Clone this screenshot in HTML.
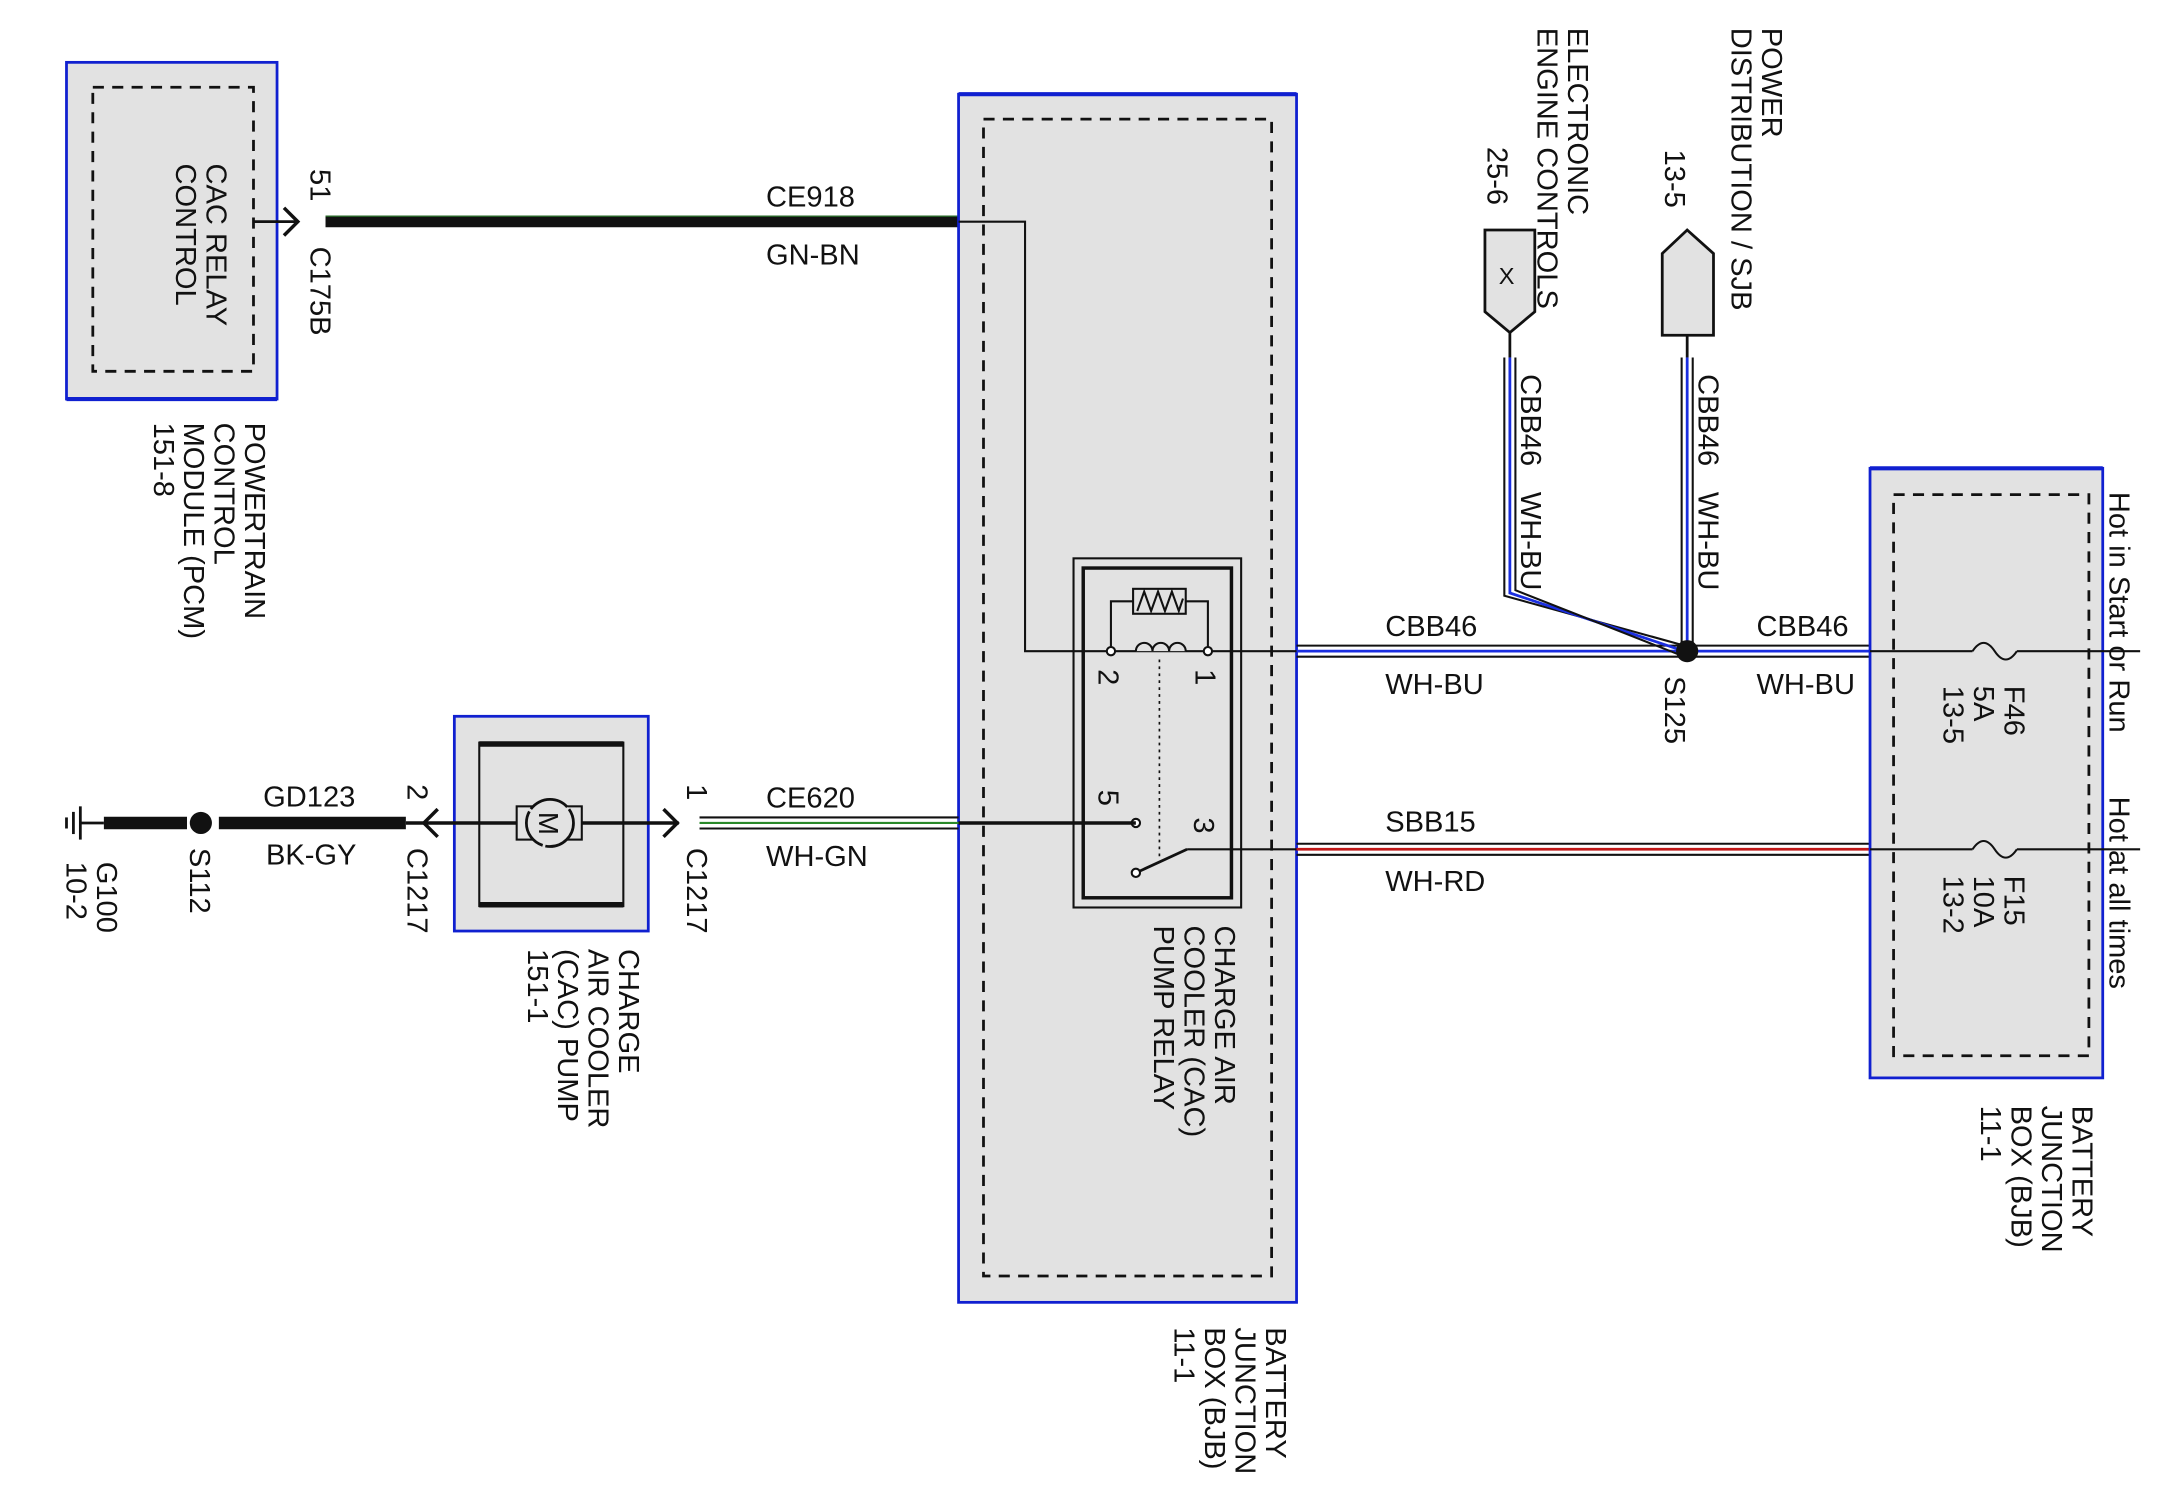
<!DOCTYPE html>
<html><head><meta charset="utf-8"><style>
html,body{margin:0;padding:0;background:#fff;}
svg{display:block;}
text{font-family:"Liberation Sans",sans-serif;font-size:21px;fill:#111;}
</style></head><body>
<svg width="2172" height="1488" viewBox="0 0 1568 1074" preserveAspectRatio="none" xmlns="http://www.w3.org/2000/svg">
<rect width="1568" height="1074" fill="#fff"/>
<!-- PCM -->
<rect x="48" y="45" width="152" height="243" fill="#e2e2e2" stroke="#1020d0" stroke-width="2"/>
<line x1="48" y1="288" x2="200" y2="288" stroke="#1020d0" stroke-width="3"/>
<rect x="67" y="63" width="116" height="205" fill="none" stroke="#111" stroke-width="2" stroke-dasharray="8,6"/>
<text transform="translate(149,118) rotate(90)"><tspan x="0" y="0">CAC RELAY</tspan><tspan x="0" dy="22">CONTROL</tspan></text>
<text transform="translate(177,305) rotate(90)"><tspan x="0" y="0">POWERTRAIN</tspan><tspan x="0" dy="22">CONTROL</tspan><tspan x="0" dy="22">MODULE (PCM)</tspan><tspan x="0" dy="22">151-8</tspan></text>
<line x1="183" y1="160" x2="214" y2="160" stroke="#111" stroke-width="2"/>
<path d="M205,150 L215,160 L205,170" fill="none" stroke="#111" stroke-width="2.5"/>
<line x1="235" y1="160" x2="692" y2="160" stroke="#111" stroke-width="8"/>
<line x1="235" y1="156" x2="692" y2="156" stroke="#2a6a2a" stroke-width="1"/>
<text transform="translate(224,122) rotate(90)">51</text>
<text transform="translate(224,178) rotate(90)">C175B</text>
<text x="553" y="149">CE918</text>
<text x="553" y="191">GN-BN</text>
<!-- Big BJB -->
<rect x="692" y="68" width="244" height="872" fill="#e2e2e2" stroke="#1020d0" stroke-width="2"/>
<line x1="692" y1="68" x2="936" y2="68" stroke="#1020d0" stroke-width="3"/>
<rect x="710" y="86" width="208" height="835" fill="none" stroke="#111" stroke-width="2" stroke-dasharray="8,6"/>
<text transform="translate(914,958) rotate(90)"><tspan x="0" y="0">BATTERY</tspan><tspan x="0" dy="22">JUNCTION</tspan><tspan x="0" dy="22">BOX (BJB)</tspan><tspan x="0" dy="22">11-1</tspan></text>
<polyline points="692,160 740,160 740,470 802,470" fill="none" stroke="#111" stroke-width="1.5"/>
<!-- relay -->
<rect x="775" y="403" width="121" height="252" fill="none" stroke="#111" stroke-width="1.5"/>
<rect x="782" y="410" width="107" height="238" fill="none" stroke="#111" stroke-width="2.5"/>
<polyline points="802,470 802,434 818,434" fill="none" stroke="#111" stroke-width="1.5"/>
<polyline points="856,434 872,434 872,470" fill="none" stroke="#111" stroke-width="1.5"/>
<rect x="818" y="425" width="38" height="18" fill="none" stroke="#111" stroke-width="1.5"/>
<polyline points="821,441 826,427 831,441 836,427 841,441 846,427 851,441 854,432" fill="none" stroke="#111" stroke-width="1.5"/>
<line x1="802" y1="470" x2="936" y2="470" stroke="#111" stroke-width="1.5"/>
<path d="M820,470 a6,6 0 0 1 12,0 a6,6 0 0 1 12,0 a6,6 0 0 1 12,0" fill="#e2e2e2" stroke="#111" stroke-width="1.5"/>
<circle cx="802" cy="470" r="3" fill="#fff" stroke="#111" stroke-width="1.5"/>
<circle cx="872" cy="470" r="3" fill="#fff" stroke="#111" stroke-width="1.5"/>
<line x1="837" y1="476" x2="837" y2="620" stroke="#111" stroke-width="1.2" stroke-dasharray="2,3"/>
<circle cx="820" cy="594" r="3" fill="#fff" stroke="#111" stroke-width="1.5"/>
<line x1="820" y1="630" x2="857" y2="613" stroke="#111" stroke-width="2"/>
<circle cx="820" cy="630" r="3" fill="#fff" stroke="#111" stroke-width="1.5"/>
<line x1="857" y1="613" x2="936" y2="613" stroke="#111" stroke-width="1.5"/>
<text transform="translate(793,483) rotate(90)">2</text>
<text transform="translate(863,483) rotate(90)">1</text>
<text transform="translate(793,570) rotate(90)">5</text>
<text transform="translate(862,590) rotate(90)">3</text>
<text transform="translate(877,668) rotate(90)"><tspan x="0" y="0">CHARGE AIR</tspan><tspan x="0" dy="22">COOLER (CAC)</tspan><tspan x="0" dy="22">PUMP RELAY</tspan></text>
<!-- CBB46 wires -->
<g stroke-width="1.5" fill="none">
<line x1="936" y1="466" x2="1218" y2="466" stroke="#111"/>
<line x1="936" y1="470" x2="1218" y2="470" stroke="#1a2ee0" stroke-width="2"/>
<line x1="936" y1="474" x2="1218" y2="474" stroke="#111"/>
<line x1="1218" y1="466" x2="1350" y2="466" stroke="#111"/>
<line x1="1218" y1="470" x2="1350" y2="470" stroke="#1a2ee0" stroke-width="2"/>
<line x1="1218" y1="474" x2="1350" y2="474" stroke="#111"/>
<polyline points="1086,258 1086,430 1216,466" stroke="#111"/>
<polyline points="1090,258 1090,428 1216,470" stroke="#1a2ee0" stroke-width="2"/>
<polyline points="1094,258 1094,426 1216,474" stroke="#111"/>
<line x1="1214" y1="258" x2="1214" y2="470" stroke="#111"/>
<line x1="1218" y1="258" x2="1218" y2="470" stroke="#1a2ee0" stroke-width="2"/>
<line x1="1222" y1="258" x2="1222" y2="470" stroke="#111"/>
<line x1="1090" y1="240" x2="1090" y2="258" stroke="#111" stroke-width="2"/>
<line x1="1218" y1="242" x2="1218" y2="258" stroke="#111" stroke-width="2"/>
<!-- SBB15 -->
<line x1="936" y1="609" x2="1350" y2="609" stroke="#111"/>
<line x1="936" y1="613" x2="1350" y2="613" stroke="#c01818" stroke-width="2"/>
<line x1="936" y1="617" x2="1350" y2="617" stroke="#111"/>
</g>
<circle cx="1218" cy="470" r="8" fill="#111"/>
<text x="1000" y="459">CBB46</text>
<text x="1000" y="501">WH-BU</text>
<text x="1268" y="459">CBB46</text>
<text x="1268" y="501">WH-BU</text>
<text x="1000" y="600">SBB15</text>
<text x="1000" y="643">WH-RD</text>
<text transform="translate(1202,488) rotate(90)">S125</text>
<text transform="translate(1098,270) rotate(90)">CBB46</text>
<text transform="translate(1098,355) rotate(90)">WH-BU</text>
<text transform="translate(1226,270) rotate(90)">CBB46</text>
<text transform="translate(1226,355) rotate(90)">WH-BU</text>
<!-- ECM connector -->
<path d="M1072,166 L1108,166 L1108,225 L1090,240 L1072,225 Z" fill="#e2e2e2" stroke="#111" stroke-width="2"/>
<text x="1082" y="205" style="font-size:17px">X</text>
<text transform="translate(1074,106) rotate(90)">25-6</text>
<text transform="translate(1132,20) rotate(90)"><tspan x="0" y="0">ELECTRONIC</tspan><tspan x="0" dy="22">ENGINE CONTROLS</tspan></text>
<!-- PD connector -->
<path d="M1200,183 L1218,166 L1237,183 L1237,242 L1200,242 Z" fill="#e2e2e2" stroke="#111" stroke-width="2"/>
<text transform="translate(1202,108) rotate(90)">13-5</text>
<text transform="translate(1272,20) rotate(90)"><tspan x="0" y="0">POWER</tspan><tspan x="0" dy="22">DISTRIBUTION / SJB</tspan></text>
<!-- right BJB -->
<rect x="1350" y="338" width="168" height="440" fill="#e2e2e2" stroke="#1020d0" stroke-width="2"/>
<line x1="1350" y1="338" x2="1518" y2="338" stroke="#1020d0" stroke-width="3"/>
<rect x="1367" y="357" width="141" height="405" fill="none" stroke="#111" stroke-width="2" stroke-dasharray="8,6"/>
<g stroke="#111" stroke-width="1.5" fill="none">
<line x1="1350" y1="470" x2="1424" y2="470"/><line x1="1456" y1="470" x2="1545" y2="470"/>
<path d="M1424,470 q8,-12 16,0 q8,12 16,0"/>
<line x1="1350" y1="613" x2="1424" y2="613"/><line x1="1456" y1="613" x2="1545" y2="613"/>
<path d="M1424,613 q8,-12 16,0 q8,12 16,0"/>
</g>
<text transform="translate(1447,495) rotate(90)"><tspan x="0" y="0">F46</tspan><tspan x="0" dy="22">5A</tspan><tspan x="0" dy="22">13-5</tspan></text>
<text transform="translate(1447,632) rotate(90)"><tspan x="0" y="0">F15</tspan><tspan x="0" dy="22">10A</tspan><tspan x="0" dy="22">13-2</tspan></text>
<text transform="translate(1523,355) rotate(90)">Hot in Start or Run</text>
<text transform="translate(1523,575) rotate(90)">Hot at all times</text>
<text transform="translate(1496,798) rotate(90)"><tspan x="0" y="0">BATTERY</tspan><tspan x="0" dy="22">JUNCTION</tspan><tspan x="0" dy="22">BOX (BJB)</tspan><tspan x="0" dy="22">11-1</tspan></text>
<!-- pump -->
<rect x="328" y="517" width="140" height="155" fill="#e2e2e2" stroke="#1020d0" stroke-width="2"/>
<rect x="346" y="536" width="104" height="118" fill="none" stroke="#111" stroke-width="1.5"/>
<line x1="346" y1="537" x2="450" y2="537" stroke="#111" stroke-width="4"/>
<line x1="346" y1="653" x2="450" y2="653" stroke="#111" stroke-width="4"/>
<line x1="293" y1="594" x2="373" y2="594" stroke="#111" stroke-width="2.5"/>
<line x1="420" y1="594" x2="490" y2="594" stroke="#111" stroke-width="2.5"/>
<rect x="373" y="582" width="47" height="24" fill="#e2e2e2" stroke="#111" stroke-width="1.5"/>
<circle cx="397" cy="594" r="17" fill="#e2e2e2" stroke="#111" stroke-width="2" stroke-dasharray="30,2"/>
<text transform="translate(389,586) rotate(90)" style="font-size:20px">M</text>
<path d="M316,584 L306,594 L316,604" fill="none" stroke="#111" stroke-width="2.5"/>
<path d="M479,584 L489,594 L479,604" fill="none" stroke="#111" stroke-width="2.5"/>
<text transform="translate(294,566) rotate(90)">2</text>
<text transform="translate(294,612) rotate(90)">C1217</text>
<text transform="translate(496,566) rotate(90)">1</text>
<text transform="translate(496,612) rotate(90)">C1217</text>
<text transform="translate(447,685) rotate(90)"><tspan x="0" y="0">CHARGE</tspan><tspan x="0" dy="22">AIR COOLER</tspan><tspan x="0" dy="22">(CAC) PUMP</tspan><tspan x="0" dy="22">151-1</tspan></text>
<!-- CE620 -->
<g stroke-width="1.5">
<line x1="505" y1="590" x2="692" y2="590" stroke="#111"/>
<line x1="505" y1="594" x2="692" y2="594" stroke="#2a8a2a"/>
<line x1="505" y1="598" x2="692" y2="598" stroke="#111"/>
</g>
<line x1="692" y1="594" x2="820" y2="594" stroke="#111" stroke-width="2.5"/>
<text x="553" y="583">CE620</text>
<text x="553" y="625">WH-GN</text>
<!-- ground side -->
<line x1="158" y1="594" x2="293" y2="594" stroke="#111" stroke-width="9"/>
<line x1="75" y1="594" x2="135" y2="594" stroke="#111" stroke-width="9"/>
<circle cx="145" cy="594" r="8" fill="#111"/>
<line x1="58" y1="594" x2="75" y2="594" stroke="#111" stroke-width="2"/>
<line x1="58" y1="582" x2="58" y2="606" stroke="#111" stroke-width="2"/>
<line x1="53" y1="586" x2="53" y2="602" stroke="#111" stroke-width="2"/>
<line x1="48" y1="590" x2="48" y2="598" stroke="#111" stroke-width="2"/>
<text x="190" y="582">GD123</text>
<text x="192" y="624">BK-GY</text>
<text transform="translate(137,612) rotate(90)">S112</text>
<text transform="translate(70,622) rotate(90)"><tspan x="0" y="0">G100</tspan><tspan x="0" dy="22">10-2</tspan></text>
</svg>
</body></html>
